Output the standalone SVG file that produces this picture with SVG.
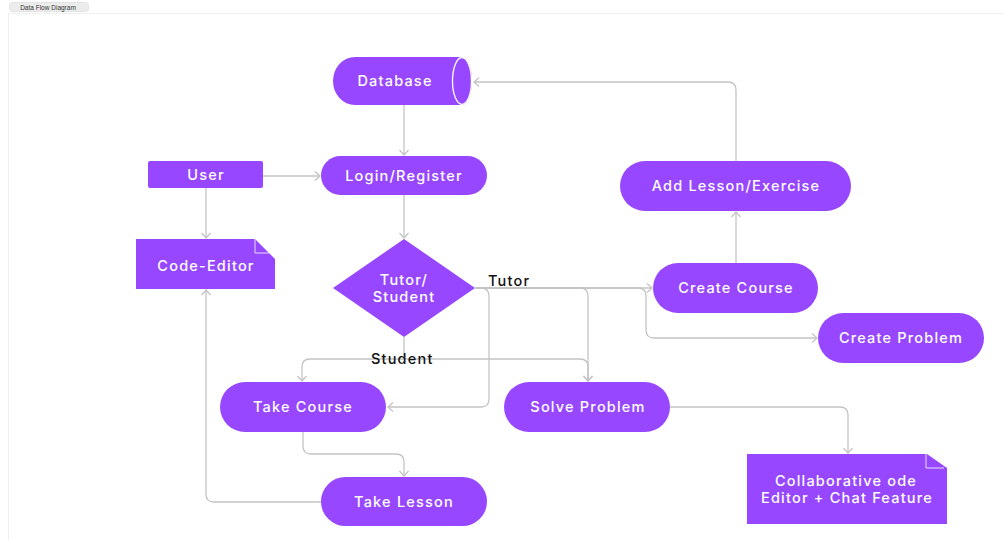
<svg xmlns="http://www.w3.org/2000/svg" width="1004" height="540" viewBox="0 0 1004 540">
<style>
.n{fill:#9747FF}
.t{fill:#fff;font-family:Inter,"Liberation Sans",sans-serif;font-size:14.5px;letter-spacing:1.2px;font-weight:500;text-anchor:middle;dominant-baseline:central}
.l{fill:#111;font-family:Inter,"Liberation Sans",sans-serif;font-size:14.5px;letter-spacing:1.2px;font-weight:500;dominant-baseline:central}
.c{fill:none;stroke:#c4c4c4;stroke-width:1.3}
</style>
<defs>
<marker id="a" markerUnits="userSpaceOnUse" markerWidth="12" markerHeight="12" refX="9" refY="6" orient="auto">
<path d="M4,1.5 L9,6 L4,10.5" fill="none" stroke="#c4c4c4" stroke-width="1.3"/>
</marker>
</defs>
<rect width="1004" height="540" fill="#fff"/>
<rect x="8.5" y="13.5" width="1000" height="530" fill="none" stroke="#f0f0f0"/>
<g id="tab">
<rect x="9.5" y="2.5" width="79" height="9" rx="3" fill="#ececec" stroke="#d6d6d6" stroke-width="0.6"/>
<text x="48" y="7.3" font-family="Liberation Sans,sans-serif" font-size="6.5" fill="#333" text-anchor="middle" dominant-baseline="central">Data Flow Diagram</text>
</g>
<g id="connectors">
<path class="c" d="M404 105 V155" marker-end="url(#a)"/>
<path class="c" d="M263 176 H320" marker-end="url(#a)"/>
<path class="c" d="M206 188 V238" marker-end="url(#a)"/>
<path class="c" d="M404 195 V238" marker-end="url(#a)"/>
<path class="c" d="M475 288 H652" marker-end="url(#a)"/>
<path class="c" d="M475 288 H481 Q489 288 489 296 V399 Q489 407 481 407 H388" marker-end="url(#a)"/>
<path class="c" d="M475 288 H580 Q588 288 588 296 V381" marker-end="url(#a)"/>
<path class="c" d="M475 288 H638 Q646 288 646 296 V330 Q646 338 654 338 H817" marker-end="url(#a)"/>
<path class="c" d="M404 337 V359 H310 Q302 359 302 367 V381" marker-end="url(#a)"/>
<path class="c" d="M404 359 H580 Q588 359 588 367 V381" marker-end="url(#a)"/>
<path class="c" d="M303 432 V446 Q303 454 311 454 H396 Q404 454 404 462 V476" marker-end="url(#a)"/>
<path class="c" d="M321 502 H214 Q206 502 206 494 V290" marker-end="url(#a)"/>
<path class="c" d="M670 407 H840 Q848 407 848 415 V453" marker-end="url(#a)"/>
<path class="c" d="M736 263 V212" marker-end="url(#a)"/>
<path class="c" d="M736 161 V90 Q736 82 728 82 H474" marker-end="url(#a)"/>
<text class="l" x="488" y="280">Tutor</text>
<text class="l" x="371" y="358">Student</text>
</g>
<g id="database">
<path class="n" d="M355 57 H462 A10 24 0 0 1 462 105 H355 A22 24 0 0 1 355 57 Z"/>
<ellipse cx="462" cy="81" rx="9.5" ry="23.5" fill="#9747FF" stroke="#fff" stroke-width="1.3"/>
<text class="t" x="395" y="80">Database</text>
</g>
<g id="login">
<rect class="n" x="321" y="156" width="166" height="39" rx="19.5"/>
<text class="t" x="404" y="175">Login/Register</text>
</g>
<g id="user">
<rect class="n" x="148" y="161" width="115" height="27" rx="2"/>
<text class="t" x="206" y="174">User</text>
</g>
<g id="code-editor">
<path class="n" d="M136 239 H255 L275 259 V289 H136 Z"/>
<path d="M255 239 V253 H269" fill="none" stroke="#fff" stroke-width="1" opacity="0.8"/>
<text class="t" x="206" y="265">Code-Editor</text>
</g>
<g id="decision">
<path class="n" d="M404 239 L475 288 L404 337 L333 288 Z"/>
<text class="t" x="404" y="279">Tutor/</text>
<text class="t" x="404" y="296">Student</text>
</g>
<g id="take-course">
<rect class="n" x="220" y="382" width="166" height="50" rx="25"/>
<text class="t" x="303" y="406">Take Course</text>
</g>
<g id="solve-problem">
<rect class="n" x="504" y="382" width="166" height="50" rx="25"/>
<text class="t" x="588" y="406">Solve Problem</text>
</g>
<g id="take-lesson">
<rect class="n" x="321" y="477" width="166" height="49" rx="24.5"/>
<text class="t" x="404" y="501">Take Lesson</text>
</g>
<g id="create-course">
<rect class="n" x="653" y="263" width="165" height="50" rx="25"/>
<text class="t" x="736" y="287">Create Course</text>
</g>
<g id="create-problem">
<rect class="n" x="818" y="313" width="166" height="50" rx="25"/>
<text class="t" x="901" y="337">Create Problem</text>
</g>
<g id="add-lesson">
<rect class="n" x="620" y="161" width="231" height="50" rx="25"/>
<text class="t" x="736" y="185">Add Lesson/Exercise</text>
</g>
<g id="collab">
<path class="n" d="M747 454 H927 L947 468 V524 H747 Z"/>
<path d="M926 454 V468 H944" fill="none" stroke="#fff" stroke-width="1" opacity="0.8"/>
<text class="t" x="846" y="480">Collaborative ode</text>
<text class="t" x="847" y="497">Editor + Chat Feature</text>
</g>
</svg>
